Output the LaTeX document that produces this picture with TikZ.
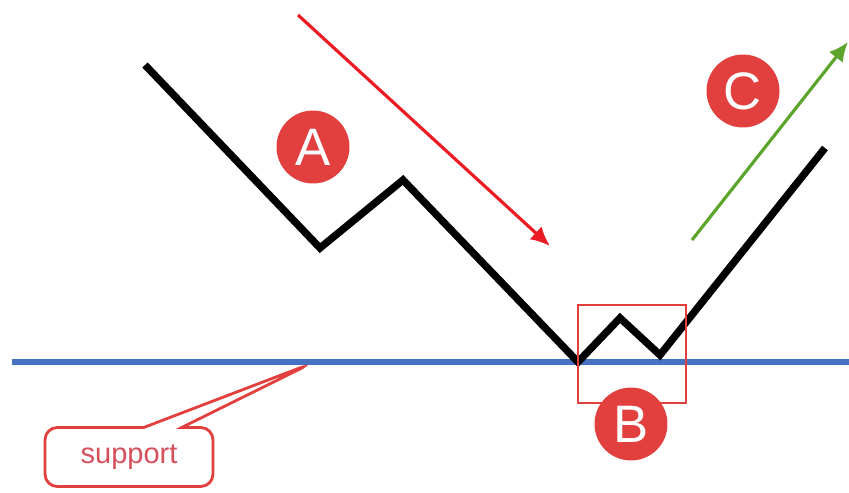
\documentclass[tikz,border=0pt]{standalone}
\usepackage{fontspec}
\setsansfont{Liberation Sans}
\usetikzlibrary{arrows.meta,shapes.callouts}

\definecolor{badgered}{RGB}{226,64,62}
\definecolor{tagtext}{RGB}{214,80,92}
\definecolor{supportblue}{RGB}{70,114,196}
\definecolor{arrowred}{RGB}{236,28,36}
\definecolor{arrowgreen}{RGB}{92,164,44}

\begin{document}
\begin{tikzpicture}[
  x=0.02cm, y=-0.02cm,
  >={Latex[length=11pt,width=10pt]},
  every node/.style={font=\sffamily},
  price/.style={line width=4.2pt, black, line join=miter},
  badge/.style={circle, fill=badgered, text=white, minimum size=1.46cm, inner sep=0pt, font=\sffamily\fontsize{30}{30}\selectfont},
  trend/.style={->, line width=1.8pt},
  zonebox/.style={draw=badgered, line width=1.2pt, minimum width=2.16cm, minimum height=1.96cm, inner sep=0pt},
  tag/.style={rectangle callout, draw=badgered, fill=white, line width=1.6pt, rounded corners=7pt, text=tagtext, minimum width=3.36cm, minimum height=1.18cm, callout pointer width=0.76cm, font=\sffamily\fontsize{16.5}{16.5}\selectfont}
]
\useasboundingbox (0,0) rectangle (849,493);

% support level
\coordinate (sleft) at (12,362);
\coordinate (sright) at (849,362);
\draw[supportblue, line width=3.4pt] (sleft) -- (sright);

% price path
\coordinate (p1) at (145,65);
\coordinate (p2) at (320,248);
\coordinate (p3) at (403,180);
\coordinate (p4) at (578,362);
\coordinate (p5) at (620,318);
\coordinate (p6) at (660,355);
\coordinate (p7) at (825,148);
\draw[price] (p1) -- (p2) -- (p3) -- (p4) -- (p5) -- (p6) -- (p7);

% trend arrows
\coordinate (downstart) at (298,15);
\coordinate (downend) at (550,246);
\draw[trend, arrowred] (downstart) -- (downend);
\coordinate (upstart) at (692,240);
\coordinate (upend) at (848,42);
\draw[trend, arrowgreen] (upstart) -- (upend);

% labels
\node[zonebox] (zone) at (632,354) {};
\node[badge] (A) at (313,147) {A};
\node[badge] (B) at (631,424) {B};
\node[badge] (C) at (743,91) {C};

% callout
\coordinate (stip) at (310,364);
\node[tag, callout absolute pointer=(stip)] (support) at (129,457) {support};
\end{tikzpicture}
\end{document}
